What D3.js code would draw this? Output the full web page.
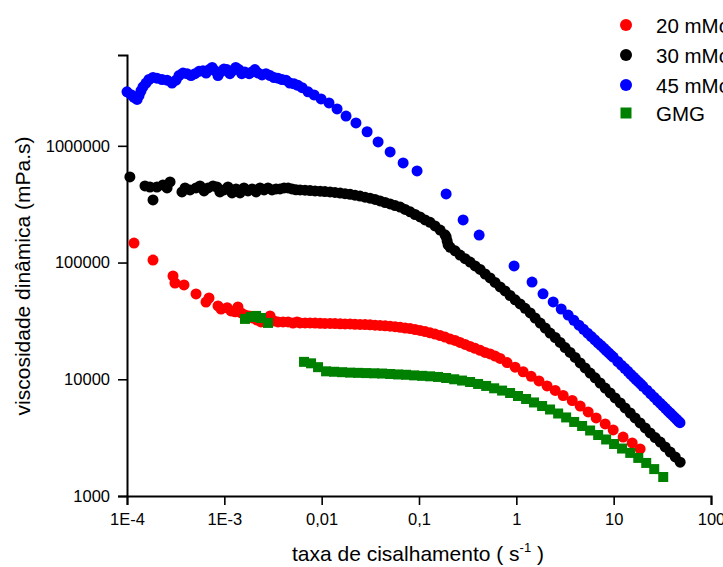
<!DOCTYPE html>
<html><head><meta charset="utf-8">
<script src="https://cdn.jsdelivr.net/npm/d3@7/dist/d3.min.js"></script>
<style>
body{margin:0;background:#fff}
svg{display:block}
text{font-family:"Liberation Sans",Arial,sans-serif;fill:#000}
</style>
</head><body>
<svg id="chart" width="723" height="567"></svg>
<script>
const seriesNames = ["20 mMol", "30 mMol", "45 mMol", "GMG"];
const seriesColors = ["#ff0000", "#000000", "#0000ff", "#008000"];
const xTickValues = [1e-4, 1e-3, 1e-2, 1e-1, 1, 10, 100];
const xTickLabels = ["1E-4", "1E-3", "0,01", "0,1", "1", "10", "100"];
const yTickValues = [1e3, 1e4, 1e5, 1e6];
const yTickLabels = ["1000", "10000", "100000", "1000000"];

// 20 mMol (red)
const red_x = [1.18e-4,1.85e-4,2.97e-4,3.11e-4,3.85e-4,5.12e-4,6.48e-4,6.96e-4,8.61e-4,9.25e-4,1.07e-3,1.17e-3,1.29e-3,1.38e-3,1.49e-3,1.63e-3,1.80e-3,1.97e-3,2.17e-3,2.38e-3,2.95e-3,3.24e-3,3.56e-3,4.01e-3,4.52e-3,5.08e-3,5.59e-3,
6.0e-3,6.75e-3,7.6e-3,8.55e-3,9.64e-3,1.08e-2,1.22e-2,1.37e-2,1.55e-2,1.74e-2,1.96e-2,2.2e-2,2.48e-2,2.79e-2,3.14e-2,3.54e-2,3.98e-2,4.49e-2,5.05e-2,5.68e-2,6.4e-2,7.2e-2,8.11e-2,9.12e-2,0.1026,0.1156,0.130,0.146,0.165,0.185,0.209,0.235,0.264,0.298,0.335,0.377,0.425,0.478,0.538,0.605,0.682,
0.803,0.972,1.175,1.42,1.71,2.07,2.51,3.03,3.75,4.53,5.47,6.61,8.18,9.89,12.5,15.5,18.7];
const red_y = [1.47e5,1.05e5,7.67e4,6.68e4,6.43e4,5.38e4,4.59e4,4.97e4,4.25e4,4.0e4,4.1e4,3.85e4,3.78e4,4.17e4,3.70e4,3.56e4,3.49e4,3.35e4,3.22e4,3.10e4,3.49e4,3.16e4,3.10e4,3.10e4,3.10e4,3.03e4,3.10e4,
3.04e4,3.04e4,3.04e4,3.03e4,3.02e4,3.01e4,3.01e4,3.0e4,2.99e4,2.98e4,2.98e4,2.96e4,2.95e4,2.94e4,2.93e4,2.91e4,2.89e4,2.87e4,2.85e4,2.82e4,2.79e4,2.75e4,2.72e4,2.67e4,2.62e4,2.56e4,2.50e4,2.44e4,2.37e4,2.30e4,2.21e4,2.15e4,2.07e4,1.99e4,1.91e4,1.84e4,1.77e4,1.70e4,1.65e4,1.58e4,1.51e4,
1.39e4,1.27e4,1.16e4,1.06e4,9670,8770,8020,7260,6580,5900,5250,4660,4140,3680,3200,2850,2530];

// 30 mMol (black)
const black_x = [1.07e-4,1.53e-4,1.72e-4,1.85e-4,2.03e-4,2.34e-4,2.58e-4,2.77e-4,3.67e-4,3.95e-4,4.44e-4,5.12e-4,5.62e-4,6.19e-4,6.8e-4,7.65e-4,8.4e-4,9.0e-4,9.9e-4,1.09e-3,1.2e-3,1.32e-3,1.45e-3,1.59e-3,1.75e-3,1.93e-3,2.12e-3,2.33e-3,2.56e-3,2.81e-3,3.09e-3,3.4e-3,3.73e-3,4.11e-3,4.52e-3,4.96e-3,5.45e-3,
6.0e-3,6.75e-3,7.6e-3,8.55e-3,9.64e-3,1.08e-2,1.22e-2,1.37e-2,1.55e-2,1.74e-2,1.96e-2,2.2e-2,2.48e-2,2.79e-2,3.14e-2,3.54e-2,3.98e-2,4.49e-2,5.05e-2,5.68e-2,6.4e-2,7.2e-2,8.11e-2,9.12e-2,0.1026,0.1156,0.130,0.146,0.165,0.185,0.190,0.1945,0.199,0.209,0.235,0.264,0.298,0.335,0.377,0.425,0.478,0.538,0.605,0.682,0.767,0.863,0.972,1.094,1.23,1.39,1.56,1.76,1.98,2.22,2.51,2.82,3.17,3.57,4.02,4.53,5.09,5.73,6.45,7.26,8.18,9.2,10.35,11.7,13.1,14.8,16.6,18.7,21.1,23.7,26.7,30.1,33.8,38.1,42.9,48.2];
const black_y = [5.41e5,4.53e5,4.44e5,3.44e5,4.44e5,4.62e5,4.36e5,4.91e5,4.03e5,4.36e5,4.19e5,4.36e5,4.53e5,4.11e5,4.36e5,4.53e5,4.44e5,4.03e5,4.19e5,4.44e5,3.95e5,4.27e5,3.95e5,4.36e5,4.11e5,4.27e5,4.03e5,4.36e5,4.19e5,4.36e5,4.19e5,4.27e5,4.27e5,4.36e5,4.36e5,4.27e5,4.2e5,
4.19e5,4.17e5,4.14e5,4.11e5,4.09e5,4.06e5,4.03e5,3.99e5,3.94e5,3.89e5,3.84e5,3.78e5,3.71e5,3.63e5,3.56e5,3.47e5,3.37e5,3.27e5,3.18e5,3.08e5,2.99e5,2.85e5,2.72e5,2.58e5,2.46e5,2.32e5,2.21e5,2.06e5,1.90e5,1.73e5,1.66e5,1.53e5,1.42e5,1.35e5,1.26e5,1.16e5,1.08e5,1.01e5,9.35e4,8.73e4,7.98e4,7.38e4,6.75e4,6.18e4,5.71e4,5.22e4,4.79e4,4.42e4,4.05e4,3.70e4,3.35e4,3.03e4,2.75e4,2.49e4,2.28e4,2.07e4,1.87e4,1.70e4,1.54e4,1.38e4,1.25e4,1.13e4,1.03e4,9290,8410,7640,6920,6270,5680,5140,4660,4230,3830,3470,3170,2900,2630,2380,2160,1950];

// 45 mMol (blue)
const blue_x = [1.0e-4,1.1e-4,1.18e-4,1.27e-4,1.33e-4,1.39e-4,1.46e-4,1.57e-4,1.68e-4,1.85e-4,2.03e-4,2.29e-4,2.58e-4,2.9e-4,3.19e-4,3.42e-4,3.76e-4,4.14e-4,4.55e-4,5.0e-4,5.5e-4,6.04e-4,6.5e-4,7.0e-4,7.5e-4,8.0e-4,8.6e-4,9.2e-4,9.9e-4,1.06e-3,1.14e-3,1.22e-3,1.31e-3,1.41e-3,1.51e-3,1.62e-3,1.8e-3,1.92e-3,2.06e-3,2.23e-3,2.44e-3,2.68e-3,2.95e-3,3.24e-3,3.56e-3,3.91e-3,4.3e-3,4.7e-3,5.2e-3,5.7e-3,6.3e-3,
7.25e-3,8.36e-3,9.86e-3,1.19e-2,1.44e-2,1.78e-2,2.25e-2,2.93e-2,3.8e-2,5.05e-2,6.87e-2,9.55e-2,0.19,0.284,0.415,0.948,1.45,1.88,2.39,2.89,3.41,
3.9,4.4,4.9,5.4,5.9,6.4,6.9,7.4,7.9,8.4,8.9,9.4,9.9,11,12,13,14,15,16,17,18,19,20,22,24,26,28,30,32,34,36,38,40,42,44,46,48];
const blue_y = [2.9e6,2.74e6,2.6e6,2.5e6,2.7e6,2.95e6,3.2e6,3.45e6,3.7e6,3.85e6,3.8e6,3.7e6,3.65e6,3.45e6,3.65e6,4.0e6,4.2e6,4.15e6,4.0e6,4.15e6,4.35e6,4.4e6,4.2e6,4.5e6,4.7e6,4.4e6,4.0e6,4.3e6,4.55e6,4.5e6,4.15e6,4.4e6,4.7e6,4.5e6,4.15e6,4.3e6,4.15e6,4.3e6,4.5e6,4.2e6,4.05e6,4.15e6,4.0e6,3.85e6,3.8e6,3.7e6,3.65e6,3.45e6,3.4e6,3.3e6,3.15e6,
2.9e6,2.73e6,2.52e6,2.33e6,2.07e6,1.8e6,1.57e6,1.32e6,1.08e6,8.87e5,7.13e5,6.1e5,3.87e5,2.32e5,1.72e5,9.35e4,6.8e4,5.4e4,4.6e4,4.0e4,3.55e4,
3.2e4,2.91e4,2.68e4,2.48e4,2.32e4,2.18e4,2.05e4,1.95e4,1.85e4,1.76e4,1.68e4,1.61e4,1.55e4,1.42e4,1.32e4,1.24e4,1.17e4,1.10e4,1.045e4,9950,9500,9080,8710,8060,7500,7020,6600,6240,5920,5640,5370,5140,4930,4730,4560,4390,4250];

// GMG (green)
const green_x = [1.63e-3,1.88e-3,2.12e-3,2.38e-3,2.81e-3,
6.59e-3,7.78e-3,9.18e-3,1.11e-2,1.34e-2,1.62e-2,1.96e-2,2.37e-2,2.86e-2,3.46e-2,4.18e-2,5.05e-2,6.10e-2,7.36e-2,8.91e-2,0.108,0.130,0.157,0.190,0.230,0.277,0.335,0.405,0.490,0.592,0.714,0.863,1.04,1.26,1.52,1.84,2.22,2.69,3.25,3.93,4.74,5.73,6.93,8.37,10.1,12.2,14.8,17.9,21.6,26.1,32.3];
const green_y = [3.29e4,3.42e4,3.49e4,3.35e4,3.04e4,
1.41e4,1.37e4,1.27e4,1.17e4,1.16e4,1.15e4,1.14e4,1.135e4,1.13e4,1.125e4,1.12e4,1.11e4,1.10e4,1.093e4,1.08e4,1.07e4,1.06e4,1.047e4,1.026e4,1.0e4,9750,9480,9120,8770,8370,8000,7630,7190,6780,6330,5900,5510,5090,4710,4310,3980,3640,3330,3050,2790,2550,2340,2120,1920,1700,1455];

const series = [
  {name: seriesNames[0], color: seriesColors[0], shape: "circle", xs: red_x, ys: red_y},
  {name: seriesNames[1], color: seriesColors[1], shape: "circle", xs: black_x, ys: black_y},
  {name: seriesNames[2], color: seriesColors[2], shape: "circle", xs: blue_x, ys: blue_y},
  {name: seriesNames[3], color: seriesColors[3], shape: "square", xs: green_x, ys: green_y}
];

const svg = d3.select("#chart");
const x = d3.scaleLog().domain([1e-4, 100]).range([127, 711]);
const y = d3.scaleLog().domain([1e3, 6e6]).range([496, 55]);

function minorTicks(lo, hi) {
  const out = [];
  for (let e = Math.floor(Math.log10(lo)); e <= Math.ceil(Math.log10(hi)); e++) {
    for (let m = 2; m <= 9; m++) {
      const v = m * Math.pow(10, e);
      if (v > lo && v <= hi * 1.0001) out.push(v);
    }
  }
  return out;
}

const fontTick = "16.5px";

// X axis
const gx = svg.append("g").attr("transform", "translate(0,496)");
gx.call(d3.axisBottom(x).tickValues(minorTicks(1e-4, 100)).tickSize(4.5).tickFormat(""));
gx.call(d3.axisBottom(x).tickValues(xTickValues).tickSize(9).tickPadding(8).tickFormat((d, i) => xTickLabels[i]));
gx.selectAll("path.domain").attr("stroke", "#000").attr("stroke-width", 2);
gx.selectAll(".tick line").attr("stroke", "#000").attr("stroke-width", 1.6);
gx.selectAll("text").style("font-size", fontTick).style("font-family", "Liberation Sans, Arial, sans-serif").attr("fill", "#000");

// Y axis
const gy = svg.append("g").attr("transform", "translate(127,0)");
gy.call(d3.axisLeft(y).tickValues(minorTicks(1e3, 6e6)).tickSize(4.5).tickFormat(""));
gy.call(d3.axisLeft(y).tickValues(yTickValues).tickSize(9).tickPadding(8).tickFormat((d, i) => yTickLabels[i]));
gy.selectAll("path.domain").attr("stroke", "#000").attr("stroke-width", 2);
gy.selectAll(".tick line").attr("stroke", "#000").attr("stroke-width", 1.6);
gy.selectAll("text").style("font-size", fontTick).style("font-family", "Liberation Sans, Arial, sans-serif").attr("fill", "#000");

// Axis titles
const xt = svg.append("text").attr("x", 418).attr("y", 561).attr("text-anchor", "middle").style("font-size", "21px");
xt.append("tspan").text("taxa de cisalhamento ( s");
xt.append("tspan").attr("dy", -9).style("font-size", "13px").text("-1");
xt.append("tspan").attr("dy", 9).text(" )");

svg.append("text").attr("transform", "translate(30,276) rotate(-90)").attr("text-anchor", "middle")
  .style("font-size", "21px").text("viscosidade dinâmica (mPa.s)");

// Data points
const R = 5.5, S = 10;
series.forEach(s => {
  const pts = s.xs.map((v, i) => ({x: v, y: s.ys[i]}));
  const g = svg.append("g");
  if (s.shape === "circle") {
    g.selectAll("circle").data(pts).enter().append("circle")
      .attr("cx", d => x(d.x)).attr("cy", d => y(d.y)).attr("r", R).attr("fill", s.color);
  } else {
    g.selectAll("rect").data(pts).enter().append("rect")
      .attr("x", d => x(d.x) - S / 2).attr("y", d => y(d.y) - S / 2)
      .attr("width", S).attr("height", S).attr("fill", s.color);
  }
});

// Legend
const legendY = [25, 55, 85, 113];
series.forEach((s, i) => {
  const cy = legendY[i];
  if (s.shape === "circle") {
    svg.append("circle").attr("cx", 626).attr("cy", cy).attr("r", 6).attr("fill", s.color);
  } else {
    svg.append("rect").attr("x", 620.5).attr("y", cy - 5.5).attr("width", 11).attr("height", 11).attr("fill", s.color);
  }
  svg.append("text").attr("x", 656).attr("y", cy + 7.5).style("font-size", "20.5px").text(s.name);
});
</script>
</body></html>
